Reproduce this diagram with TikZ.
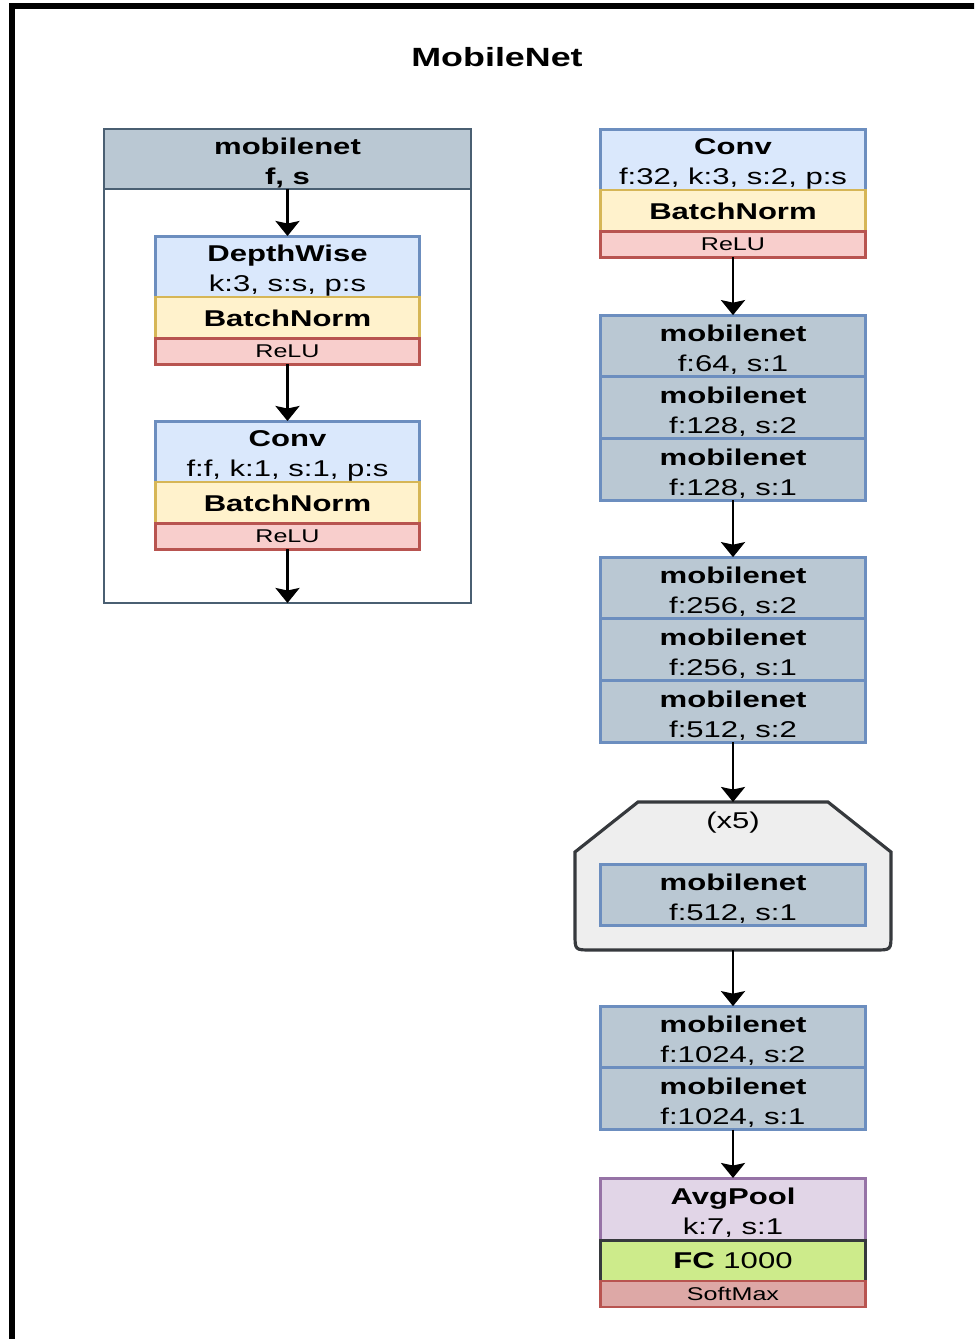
\documentclass[tikz,border=0pt]{standalone}
\usepackage{fontspec}
\setmainfont{Liberation Sans}[FakeStretch=1.36]
\usetikzlibrary{arrows.meta,positioning}

\definecolor{blueF}{HTML}{DAE8FC}
\definecolor{blueD}{HTML}{6C8EBF}
\definecolor{yelF}{HTML}{FFF2CC}
\definecolor{yelD}{HTML}{D6B656}
\definecolor{redF}{HTML}{F8CECC}
\definecolor{redD}{HTML}{B85450}
\definecolor{smF}{HTML}{DDA8A6}
\definecolor{mnF}{HTML}{BAC8D3}
\definecolor{mnD}{HTML}{6C8EBF}
\definecolor{hdrD}{HTML}{4A5F72}
\definecolor{purF}{HTML}{E1D5E7}
\definecolor{purD}{HTML}{9673A6}
\definecolor{fcF}{HTML}{CDEB8B}
\definecolor{darkD}{HTML}{36393D}
\definecolor{repF}{HTML}{EEEEEE}

% strut that lowers two-line labels a little inside their boxes
\newcommand{\toprow}{\rule{0pt}{14pt}}

\tikzset{
  layer/.style={draw, line width=1.7pt, minimum width=5.32cm, inner sep=0pt,
    outer sep=0pt, align=center, font=\fontsize{13}{17}\selectfont},
  convbox/.style={layer, fill=blueF, draw=blueD, minimum height=1.22cm},
  bnbox/.style={layer, fill=yelF, draw=yelD, minimum height=0.84cm},
  relubox/.style={layer, fill=redF, draw=redD, minimum height=0.51cm,
    font=\fontsize{10.5}{12}\selectfont},
  mbox/.style={layer, fill=mnF, draw=mnD, minimum height=1.235cm},
  poolbox/.style={layer, fill=purF, draw=purD, minimum height=1.24cm},
  fcbox/.style={layer, fill=fcF, draw=darkD, minimum height=0.82cm},
  smbox/.style={layer, fill=smF, draw=redD, minimum height=0.52cm,
    font=\fontsize{10.5}{12}\selectfont},
  flow/.style={line width=1.5pt, -{Stealth[length=0.3cm,width=0.48cm,inset=0.05cm]}},
}

\begin{document}
\begin{tikzpicture}[x=0.02cm, y=-0.02cm]
\useasboundingbox (0,0) rectangle (974,1339);

% page frame
\begin{scope}
  \clip (0,0) rectangle (974,1339);
  \draw[line width=0.13cm] (12,6) rectangle (1100,1450);
\end{scope}

% title
\node[font=\fontsize{15}{17}\selectfont\bfseries] (title) at (497,57) {MobileNet};

% ---- the mobilenet block definition (left) ----
\draw[draw=hdrD, line width=1pt] (104,129) rectangle (471,603);
\node[draw=hdrD, fill=mnF, line width=1pt, minimum width=7.34cm, minimum height=1.2cm,
      inner sep=0pt, outer sep=0pt, align=center,
      font=\fontsize{13}{17}\selectfont\bfseries] (hdr) at (287.5,159) {\toprow mobilenet\\f, s};

\node[convbox, minimum width=5.3cm] (dw) at (287.5,266.5) {\toprow\textbf{DepthWise}\\k:3, s:s, p:s};
\node[bnbox, minimum width=5.3cm, below=0pt of dw] (bn1) {\textbf{BatchNorm}};
\node[relubox, minimum width=5.3cm, below=0pt of bn1] (relu1) {ReLU};

\node[convbox, minimum width=5.3cm] (pw) at (287.5,451.5) {\toprow\textbf{Conv}\\f:f, k:1, s:1, p:s};
\node[bnbox, minimum width=5.3cm, below=0pt of pw] (bn2) {\textbf{BatchNorm}};
\node[relubox, minimum width=5.3cm, below=0pt of bn2] (relu2) {ReLU};
\coordinate (blockout) at (287.5,603);

\draw[flow] (hdr) -- (dw);
\draw[flow] (relu1) -- (pw);
\draw[flow] (relu2) -- (blockout);

% ---- the network (right) ----
\node[convbox] (c0) at (733,159.5) {\toprow\textbf{Conv}\\f:32, k:3, s:2, p:s};
\node[bnbox, below=0pt of c0] (c0bn) {\textbf{BatchNorm}};
\node[relubox, below=0pt of c0bn] (c0relu) {ReLU};

\node[mbox] (m1) at (733,346) {\toprow\textbf{mobilenet}\\f:64, s:1};
\node[mbox, below=0pt of m1] (m2) {\toprow\textbf{mobilenet}\\f:128, s:2};
\node[mbox, below=0pt of m2] (m3) {\toprow\textbf{mobilenet}\\f:128, s:1};

\node[mbox] (m4) at (733,588) {\toprow\textbf{mobilenet}\\f:256, s:2};
\node[mbox, below=0pt of m4] (m5) {\toprow\textbf{mobilenet}\\f:256, s:1};
\node[mbox, below=0pt of m5] (m6) {\toprow\textbf{mobilenet}\\f:512, s:2};

% repeated block
\draw[draw=darkD, fill=repF, line width=1.8pt]
  (638,802) -- (828,802) -- (891,852) -- (891,934)
  .. controls (891,950) .. (875,950) -- (591,950)
  .. controls (575,950) .. (575,934) -- (575,852) -- cycle;
\coordinate (reptop) at (733,802);
\coordinate (repbot) at (733,950);
\node[font=\fontsize{13}{14}\selectfont] (rep) at (733,823) {(x5)};
\node[mbox] (m7) at (733,895) {\toprow\textbf{mobilenet}\\f:512, s:1};

\node[mbox] (m8) at (733,1037) {\toprow\textbf{mobilenet}\\f:1024, s:2};
\node[mbox, below=0pt of m8] (m9) {\toprow\textbf{mobilenet}\\f:1024, s:1};

\node[poolbox] (pool) at (733,1209) {\toprow\textbf{AvgPool}\\k:7, s:1};
\node[fcbox, below=0pt of pool] (fc) {\textbf{FC} 1000};
\node[smbox, below=0pt of fc] (sm) {SoftMax};

\draw[flow] (c0relu) -- (m1);
\draw[flow] (m3) -- (m4);
\draw[flow] (m6) -- (reptop);
\draw[flow] (repbot) -- (m8);
\draw[flow] (m9) -- (pool);
\end{tikzpicture}
\end{document}
